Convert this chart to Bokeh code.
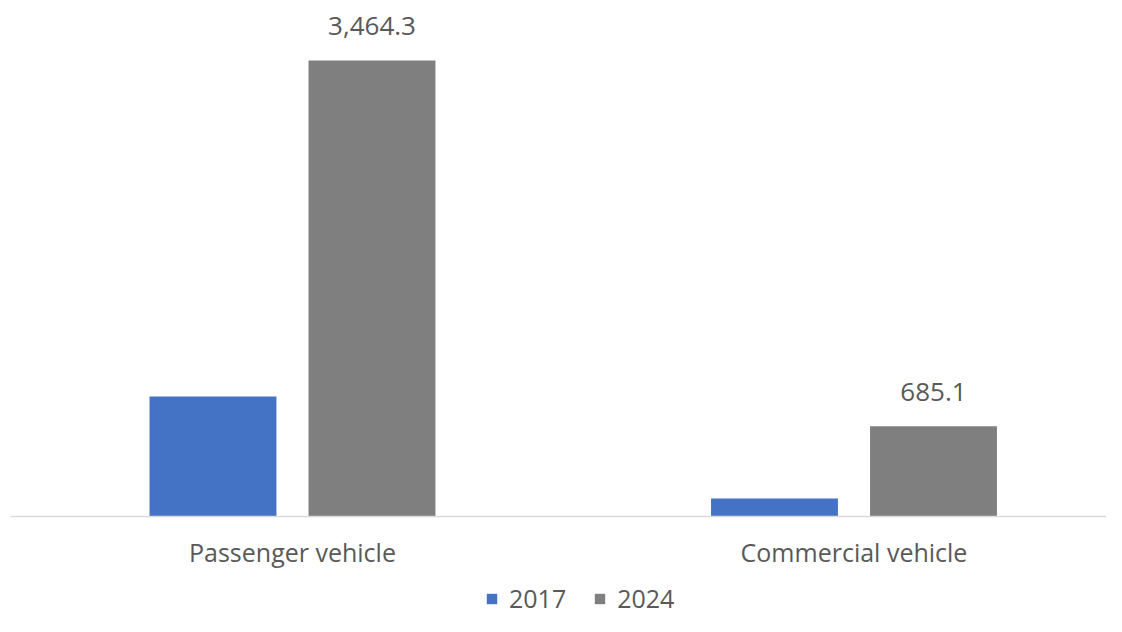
from bokeh.plotting import figure
from bokeh.models import ColumnDataSource, FixedTicker, Legend, LegendItem, Range1d
from bokeh.core.properties import value
from bokeh.embed import file_html
from bokeh.resources import INLINE

categories = ["Passenger vehicle", "Commercial vehicle"]
years = ["2017", "2024"]
values_2017 = [912.0, 137.0]
values_2024 = [3464.3, 685.1]
colors = ["#4472C4", "#7F7F7F"]

FONT = "Open Sans"
TEXT_COLOR = "#595959"

pos = list(range(len(categories)))
offset = 0.1416
bar_w = 0.226

src17 = ColumnDataSource(dict(x=[p_ - offset for p_ in pos], top=values_2017))
src24 = ColumnDataSource(dict(x=[p_ + offset for p_ in pos], top=values_2024,
                              label=[f"{v:,.1f}" for v in values_2024]))

p = figure(width=1106, height=616, output_backend="svg", toolbar_location=None,
           x_range=Range1d(-0.5022, 1.4497), y_range=Range1d(-759.7, 3920.1),
           min_border_left=10, min_border_right=0, min_border_top=0, min_border_bottom=0)

r17 = p.vbar(x="x", top="top", width=bar_w, source=src17, fill_color=colors[0], line_color=None)
r24 = p.vbar(x="x", top="top", width=bar_w, source=src24, fill_color=colors[1], line_color=None)

p.text(x="x", y="top", text="label", source=src24, text_align="center", text_baseline="bottom",
       y_offset=-25, text_font=value(FONT), text_font_size="26px", text_color=TEXT_COLOR)

p.xaxis.fixed_location = 0
p.xaxis.ticker = FixedTicker(ticks=pos)
p.xaxis.major_label_overrides = {i: c for i, c in enumerate(categories)}
p.xaxis.major_tick_line_color = None
p.xaxis.minor_tick_line_color = None
p.xaxis.axis_line_color = "#D9D9D9"
p.xaxis.axis_line_width = 1.5
p.xaxis.major_label_standoff = 12
p.xaxis.major_label_text_font = FONT
p.xaxis.major_label_text_font_size = "25px"
p.xaxis.major_label_text_color = TEXT_COLOR
p.yaxis.visible = False
p.xgrid.visible = False
p.ygrid.visible = False
p.outline_line_color = None

legend = Legend(items=[LegendItem(label=years[0], renderers=[r17]),
                       LegendItem(label=years[1], renderers=[r24])],
                orientation="horizontal", location=(475, 1),
                glyph_width=13, glyph_height=13, label_standoff=11, spacing=27,
                label_text_font=FONT, label_text_font_size="25px", label_text_color=TEXT_COLOR,
                border_line_color=None, background_fill_alpha=0, padding=0, margin=0)
p.add_layout(legend)

open("out.html", "w").write(file_html(p, INLINE))
